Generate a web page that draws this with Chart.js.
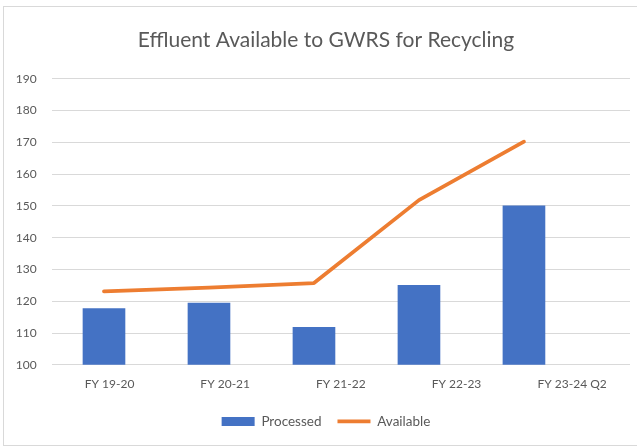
<!DOCTYPE html>
<html><head><meta charset="utf-8">
<script src="https://cdn.jsdelivr.net/npm/chart.js@4"></script>
<style>
html,body{margin:0;padding:0;background:#fff;}
#wrap{position:relative;width:637px;height:447px;overflow:hidden;background:#fff;}
#frame{position:absolute;left:3px;top:6px;width:700px;height:440px;border:1px solid #d9d9d9;box-sizing:border-box;}
canvas{position:absolute;left:0;top:0;}
</style></head><body>
<div id="wrap"><div id="frame"></div><canvas id="c" width="637" height="447"></canvas></div>
<script>
const categories = ['FY 19-20', 'FY 20-21', 'FY 21-22', 'FY 22-23', 'FY 23-24 Q2'];
const processed = [117.7, 119.4, 111.8, 125.0, 150.0];
const available = [123.1, 124.3, 125.7, 151.8, 170.2];
const yMin = 100, yMax = 190, yStep = 10;
const titleText = 'Effluent Available to GWRS for Recycling';

const FONT = 'Lato';
const TXT = '#595959';

new Chart(document.getElementById('c'), {
  type: 'bar',
  data: {
    labels: categories,
    datasets: [
      {
        type: 'bar', label: 'Processed',
        data: processed.map((v, i) => ({x: i, y: v})),
        backgroundColor: '#4472C4', borderWidth: 0,
        barThickness: 42, xAxisID: 'x', yAxisID: 'y', order: 1, pointStyle: 'rect'
      },
      {
        type: 'line', label: 'Available',
        data: available.map((v, i) => ({x: i, y: v})),
        borderColor: '#ED7D31', backgroundColor: '#ED7D31', borderWidth: 3.8,
        pointRadius: 0, pointHoverRadius: 0, tension: 0, fill: false,
        borderCapStyle: 'round', borderJoinStyle: 'round',
        xAxisID: 'x', yAxisID: 'y', order: 0, pointStyle: 'line'
      }
    ]
  },
  options: {
    responsive: false, animation: false, devicePixelRatio: 1,
    layout: {padding: {left: 15, right: 0, top: 0, bottom: 8.8}},
    plugins: {
      title: {
        display: true, text: titleText, color: TXT,
        font: {family: FONT, size: 21, weight: 'normal', lineHeight: 1.2},
        padding: {top: 27.5, bottom: 26}
      },
      legend: {
        position: 'bottom',
        labels: {
          color: TXT, font: {family: FONT, size: 13.5},
          usePointStyle: true, pointStyleWidth: 33, boxHeight: 9, padding: 16,
          sort: (a, b) => a.datasetIndex - b.datasetIndex
        }
      },
      tooltip: {enabled: false}
    },
    scales: {
      x: {
        type: 'linear', display: false, offset: false,
        min: -0.498, max: 5.01
      },
      x2: {
        type: 'category', position: 'bottom', offset: true,
        grid: {display: false, drawTicks: false}, border: {display: false},
        ticks: {color: TXT, font: {family: FONT, size: 12}, padding: 12, maxRotation: 0},
        afterFit: s => { s.height = 33.9; }
      },
      y: {
        position: 'left',
        min: yMin, max: yMax,
        grid: {color: '#d9d9d9', drawTicks: false, lineWidth: 1},
        border: {display: false},
        ticks: {stepSize: yStep, color: TXT, font: {family: FONT, size: 12}, padding: 15},
        afterFit: s => { s.width = 36.7; }
      },
      yR: {
        type: 'linear', position: 'right',
        grid: {display: false, drawTicks: false}, border: {display: false},
        ticks: {display: false},
        afterFit: s => { s.width = 7; }
      }
    }
  }
});
</script>
</body></html>
